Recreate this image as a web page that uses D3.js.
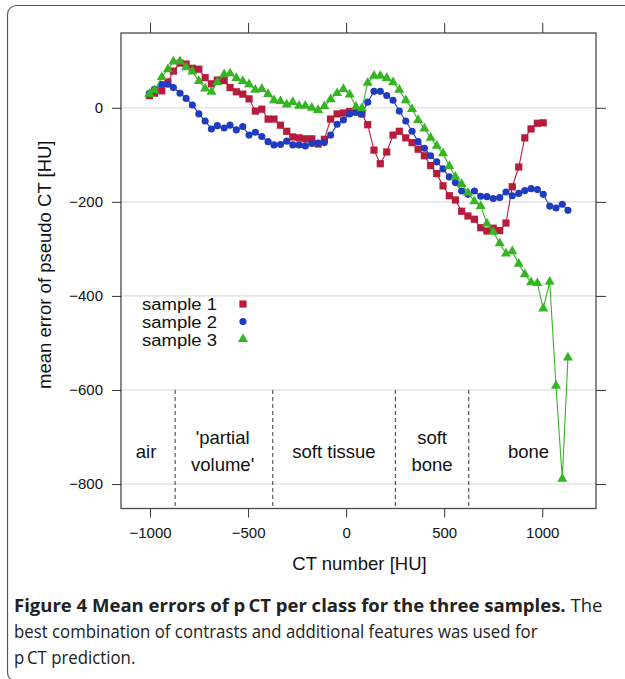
<!DOCTYPE html>
<html>
<head>
<meta charset="utf-8">
<script src="https://cdn.jsdelivr.net/npm/d3@7"></script>
<style>
  html, body { margin: 0; padding: 0; background: #fff; }
  svg { display: block; }
</style>
</head>
<body>
<svg id="chart" width="625" height="679"></svg>
<script>
// ---------------- data ----------------
const ctBins = [-1003, -978, -940, -909, -881, -847, -816, -784, -751, -719,
  -687, -657, -622, -592, -560, -527, -495, -463, -430, -398,
  -368, -335, -303, -272, -240, -208, -175, -143, -111, -79,
  -46, -14, 18, 50, 80, 110, 142, 174, 207, 239,
  271, 304, 336, 367, 399, 431, 462, 494, 526, 557,
  589, 621, 654, 686, 718, 750, 783, 815, 847, 880,
  911, 943, 975, 1005, 1038, 1070, 1102, 1131];

const sample1 = [26, 31, 36, 55, 78, 95, 93, 84, 82, 64,
  51, 59, 58, 43, 34, 29, 19, -7, -3, -24,
  -24, -37, -50, -62, -64, -66, -66, -77, -67, -24,
  -13, -11, -8, -8, -13, -36, -90, -119, -94, -58,
  -50, -64, -74, -88, -102, -123, -140, -166, -187, -196,
  -220, -230, -237, -255, -262, -256, -261, -245, -168, -126,
  -64, -45, -33, -32];

const sample2 = [31, 39, 50, 50, 43, 31, 20, 6, -13, -28,
  -45, -38, -43, -37, -47, -40, -58, -52, -61, -72,
  -79, -78, -71, -79, -79, -81, -76, -75, -74, -58,
  -35, -26, -13, -10, -13, 12, 35, 35, 26, 16,
  -7, -28, -50, -72, -86, -102, -115, -130, -147, -159,
  -177, -184, -177, -188, -189, -193, -191, -179, -187, -182,
  -176, -172, -174, -184, -209, -213, -205, -218];

const sample3 = [29, 37, 65, 82, 98, 99, 86, 77, 57, 41,
  34, 54, 71, 73, 63, 57, 50, 38, 40, 29,
  16, 14, 7, 12, 4, 4, 0, -5, 3, 18,
  31, 40, 28, 2, -1, 53, 68, 68, 63, 54,
  38, 16, -3, -26, -44, -64, -81, -97, -124, -147,
  -162, -181, -199, -209, -246, -264, -288, -310, -305, -332,
  -354, -371, -373, -427, -370, -591, -789, -531];

const seriesNames = ["sample 1", "sample 2", "sample 3"];
const xTicks = [-1000, -500, 0, 500, 1000];
const yTicks = [0, -200, -400, -600, -800];
const classBounds = [-872, -374, 251, 625];
const classLabels = [
  { lines: ["air"], x: -1020 },
  { lines: ["'partial", "volume'"], x: -630 },
  { lines: ["soft tissue"], x: -62 },
  { lines: ["soft", "bone"], x: 438 },
  { lines: ["bone"], x: 930 }
];
const xLabel = "CT number [HU]";
const yLabel = "mean error of pseudo CT [HU]";
const captionBold = "Figure 4 Mean errors of p\u2009CT per class for the three samples.";
const captionRest = [" The", "best combination of contrasts and additional features was used for", "p\u2009CT prediction."];

// ---------------- layout ----------------
const colors = ["#b81c3d", "#1f3bbf", "#36b524"];
const symbols = [d3.symbolSquare, d3.symbolCircle, d3.symbolTriangle];
const symSizes = [52, 40, 44];
const L = 121, R = 596, T = 33, B = 508.5;
const chartFont = "'Liberation Sans', Arial, Helvetica, sans-serif";

const svg = d3.select("#chart");

// card
svg.append("rect")
  .attr("x", 7.5).attr("y", 5.5).attr("width", 700).attr("height", 676)
  .attr("rx", 9).attr("ry", 9)
  .attr("fill", "#fff").attr("stroke", "#5a5a5a").attr("stroke-width", 1.2);

const x = d3.scaleLinear().domain([-1148, 1274]).range([L, R]);
const y = d3.scaleLinear().domain([159, -852]).range([T, B]);

// gridlines
svg.append("g").selectAll("line").data(yTicks).join("line")
  .attr("x1", L).attr("x2", R)
  .attr("y1", d => y(d)).attr("y2", d => y(d))
  .attr("stroke", "#e6e6e6").attr("stroke-width", 1.6);

// class boundaries (dashed)
svg.append("g").selectAll("line").data(classBounds).join("line")
  .attr("x1", d => x(d)).attr("x2", d => x(d))
  .attr("y1", y(-600)).attr("y2", B)
  .attr("stroke", "#333").attr("stroke-width", 1)
  .attr("stroke-dasharray", "4,3");

// class labels
const clg = svg.append("g").attr("font-family", chartFont).attr("font-size", 18.5)
  .attr("fill", "#111").attr("text-anchor", "middle");
classLabels.forEach(c => {
  const t = clg.append("text").attr("x", x(c.x));
  if (c.lines.length === 1) {
    t.attr("y", 458).text(c.lines[0]);
  } else {
    t.append("tspan").attr("x", x(c.x)).attr("y", 444).text(c.lines[0]);
    t.append("tspan").attr("x", x(c.x)).attr("y", 471).text(c.lines[1]);
  }
});

// series
const allSeries = [sample1, sample2, sample3];
const line = d3.line().x(d => x(d[0])).y(d => y(d[1]));
allSeries.forEach((vals, i) => {
  const pts = vals.map((v, j) => [ctBins[j], v]);
  const g = svg.append("g");
  g.append("path").datum(pts).attr("d", line)
    .attr("fill", "none").attr("stroke", colors[i]).attr("stroke-width", 1.1);
  g.selectAll("path.pt").data(pts).join("path").attr("class", "pt")
    .attr("transform", d => `translate(${x(d[0])},${y(d[1])})`)
    .attr("d", d3.symbol().type(symbols[i]).size(symSizes[i]))
    .attr("fill", colors[i]);
});

// frame
svg.append("rect").attr("x", L).attr("y", T).attr("width", R - L).attr("height", B - T)
  .attr("fill", "none").attr("stroke", "#4a4a4a").attr("stroke-width", 1.3);

const fmt = d => d < 0 ? "\u2212" + Math.abs(d) : String(d);
function styleAxis(g) {
  g.select(".domain").remove();
  g.selectAll(".tick line").attr("stroke", "#333").attr("stroke-width", 1);
  g.selectAll(".tick text").attr("fill", "#111").attr("font-family", chartFont).attr("font-size", 15);
}
svg.append("g").attr("transform", `translate(0,${B})`)
  .call(d3.axisBottom(x).tickValues(xTicks).tickFormat(fmt).tickSize(9).tickPadding(9.5))
  .call(styleAxis);
svg.append("g").attr("transform", `translate(0,${T})`)
  .call(d3.axisTop(x).tickValues(xTicks).tickFormat("").tickSize(10))
  .call(styleAxis);
svg.append("g").attr("transform", `translate(${L},0)`)
  .call(d3.axisLeft(y).tickValues(yTicks).tickFormat(fmt).tickSize(9).tickPadding(9))
  .call(styleAxis);
svg.append("g").attr("transform", `translate(${R},0)`)
  .call(d3.axisRight(y).tickValues(yTicks).tickFormat("").tickSize(10))
  .call(styleAxis);

// axis titles
svg.append("text").attr("x", (L + R) / 2 + 1).attr("y", 570)
  .attr("text-anchor", "middle").attr("font-family", chartFont).attr("font-size", 18.5)
  .attr("fill", "#111").text(xLabel);
svg.append("text").attr("transform", `translate(51,${(T + B) / 2 - 6}) rotate(-90)`)
  .attr("text-anchor", "middle").attr("font-family", chartFont).attr("font-size", 18.5)
  .attr("fill", "#111").text(yLabel);

// legend
const lg = svg.append("g").attr("font-family", chartFont).attr("font-size", 15.6).attr("fill", "#111");
seriesNames.forEach((n, i) => {
  lg.append("text").attr("x", 142).attr("y", 310 + i * 18)
    .attr("textLength", 75).attr("lengthAdjust", "spacingAndGlyphs").text(n);
  lg.append("path").attr("transform", `translate(243,${304 + i * 17.6})`)
    .attr("d", d3.symbol().type(symbols[i]).size(symSizes[i]))
    .attr("fill", colors[i]);
});

// caption
const capFont = "'Open Sans', 'Noto Sans', sans-serif";
const cap = svg.append("g").attr("font-family", capFont).attr("font-size", 18).attr("fill", "#222");
const l1 = cap.append("text");
l1.append("tspan").attr("font-weight", "bold").text(captionBold);
l1.append("tspan").text(captionRest[0]);
const l2 = cap.append("text").text(captionRest[1]);
const l3 = cap.append("text").text(captionRest[2]);
const k1 = 589 / l1.node().getComputedTextLength();
const k2 = 524 / l2.node().getComputedTextLength();
l1.attr("transform", `translate(14,612) scale(${k1},1)`);
l2.attr("transform", `translate(14,638) scale(${k2},1)`);
l3.attr("transform", `translate(14,664) scale(${k2},1)`);
</script>
</body>
</html>
